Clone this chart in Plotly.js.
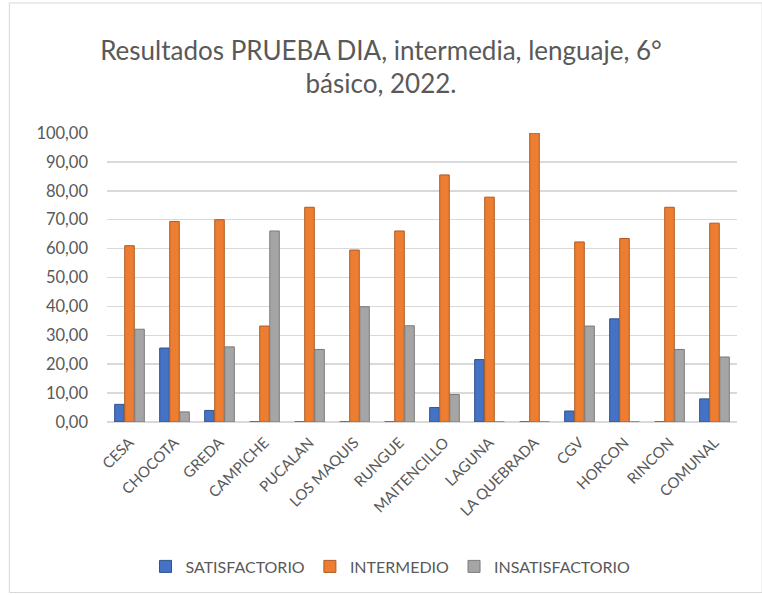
<!DOCTYPE html>
<html><head><meta charset="utf-8">
<script src="https://cdn.plot.ly/plotly-3.0.1.min.js"></script>
<style>html,body{margin:0;padding:0;background:#fff}#c{width:762px;height:595px}</style>
</head><body><div id="c"></div>
<script>
const categories = ["CESA","CHOCOTA","GREDA","CAMPICHE","PUCALAN","LOS MAQUIS","RUNGUE","MAITENCILLO","LAGUNA","LA QUEBRADA","CGV","HORCON","RINCON","COMUNAL"];
const satisfactorio   = [6.1, 25.6, 4.0, 0, 0, 0, 0, 5.0, 21.6, 0, 3.8, 35.7, 0, 8.0];
const intermedio      = [61.0, 69.4, 70.0, 33.2, 74.3, 59.5, 66.1, 85.5, 77.8, 100, 62.3, 63.5, 74.3, 68.8];
const insatisfactorio = [32.1, 3.5, 26.0, 66.1, 25.1, 39.9, 33.3, 9.5, 0, 0, 33.2, 0, 25.1, 22.5];
const seriesNames = ["SATISFACTORIO","INTERMEDIO","INSATISFACTORIO"];
const colors = ["#4472c4","#ed7d31","#a5a5a5"];
const edge = ["#2f528f","#ae5a21","#7b7b7b"];
const vals = [satisfactorio, intermedio, insatisfactorio];

const traces = vals.map((v,i)=>({
  type:'bar', x:categories, y:v, name:seriesNames[i],
  marker:{color:colors[i], line:{color:edge[i], width:1}},
  hoverinfo:'x+y'
}));

const font = "Lato, 'Open Sans', sans-serif";
Plotly.newPlot('c', traces, {
  width:762, height:595,
  paper_bgcolor:'#fff', plot_bgcolor:'#fff',
  separators:',.',
  margin:{l:107, r:25, t:133, b:173},
  title:{text:'Resultados PRUEBA DIA, intermedia, lenguaje, 6°<br>básico, 2022.', x:0.5, xanchor:'center', y:0.9, yanchor:'middle',
    font:{family:font, size:26, color:'#595959'}},
  barmode:'group', bargap:0.33, bargroupgap:0.05,
  xaxis:{tickangle:-45, tickfont:{family:font, size:15, color:'#595959'}, showgrid:false, showline:false, ticks:'', ticklabelstandoff:8, fixedrange:true},
  yaxis:{range:[0,100], dtick:10, tickformat:'.2f', gridcolor:'#d9d9d9', gridwidth:1.5, zeroline:true, zerolinecolor:'#d9d9d9', zerolinewidth:1.5,
    tickfont:{family:font, size:16.5, color:'#595959'}, ticklabelstandoff:18, showline:false, fixedrange:true},
  showlegend:true,
  legend:{orientation:'h', x:0.45, xanchor:'center', y:-0.5, yanchor:'middle', font:{family:font, size:16, color:'#595959'}, itemwidth:30, traceorder:'normal'},
  shapes:[{type:'rect', xref:'paper', yref:'paper', x0:-0.155, x1:1.04, y0:-0.59, y1:1.45, line:{color:'#d9d9d9', width:1}}]
}, {displayModeBar:false, staticPlot:true});
</script></body></html>
